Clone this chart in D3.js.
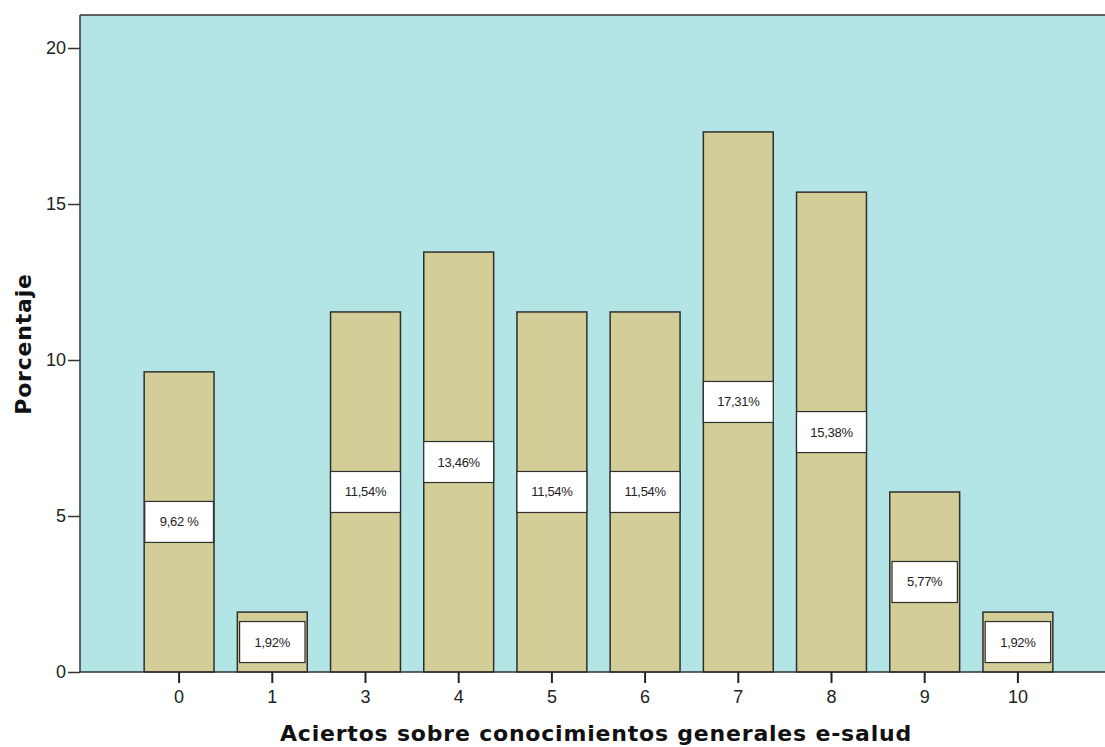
<!DOCTYPE html>
<html>
<head>
<meta charset="utf-8">
<script src="https://cdn.jsdelivr.net/npm/d3@7/dist/d3.min.js"></script>
<style>
  html, body { margin: 0; padding: 0; background: #ffffff; }
  svg { display: block; }
</style>
</head>
<body>
<svg id="chart" width="1105" height="747"></svg>
<script>
// Categories: number of correct answers; values: percentage of respondents
const categories = ["0", "1", "3", "4", "5", "6", "7", "8", "9", "10"];
const percentages = [9.62, 1.92, 11.54, 13.46, 11.54, 11.54, 17.31, 15.38, 5.77, 1.92];
const valueLabels = ["9,62 %", "1,92%", "11,54%", "13,46%", "11,54%", "11,54%", "17,31%", "15,38%", "5,77%", "1,92%"];
const yTicks = [0, 5, 10, 15, 20];

const plot = { left: 80, top: 15, right: 1116, bottom: 672 };

const svg = d3.select("#chart");

const x = d3.scaleBand()
  .domain(categories)
  .range([132.5, 132.5 + 932])
  .paddingInner(0.25)
  .paddingOuter(0.125);

const y = d3.scaleLinear().domain([0, 20]).range([plot.bottom, 48]);

// plot background
svg.append("rect")
  .attr("x", plot.left).attr("y", plot.top)
  .attr("width", plot.right - plot.left).attr("height", plot.bottom - plot.top)
  .attr("fill", "#b3e5e7");

// top frame line
svg.append("line")
  .attr("x1", plot.left).attr("x2", plot.right)
  .attr("y1", plot.top).attr("y2", plot.top)
  .attr("stroke", "#333").attr("stroke-width", 1.5);

const rows = categories.map((c, i) => ({ c, v: percentages[i], label: valueLabels[i] }));

const bars = svg.append("g").selectAll("g.bar")
  .data(rows)
  .join("g").attr("class", "bar");

bars.append("rect")
  .attr("x", d => x(d.c))
  .attr("y", d => y(d.v))
  .attr("width", x.bandwidth())
  .attr("height", d => y(0) - y(d.v))
  .attr("fill", "#d3cd98")
  .attr("stroke", "#2f2f2f")
  .attr("stroke-width", 1.5);

// value label boxes centred at half bar height
bars.each(function(d) {
  const g = d3.select(this);
  const cx = x(d.c) + x.bandwidth() / 2;
  const cy = (y(d.v) + y(0)) / 2;
  const box = g.append("rect")
    .attr("fill", "#ffffff")
    .attr("stroke", "#2f2f2f")
    .attr("stroke-width", 1.2);
  const t = g.append("text")
    .attr("x", cx).attr("y", cy)
    .attr("text-anchor", "middle")
    .attr("dominant-baseline", "central")
    .attr("font-family", "Liberation Sans, Arial, sans-serif")
    .attr("font-size", 13)
    .attr("letter-spacing", -0.3)
    .attr("fill", "#222")
    .text(d.label);
  const tw = t.node().getComputedTextLength();
  const bw = Math.min(x.bandwidth(), tw + 30);
  const bh = 41;
  box.attr("x", cx - bw / 2).attr("y", cy - bh / 2)
    .attr("width", bw).attr("height", bh);
});

// y axis
const yAxis = svg.append("g")
  .attr("transform", `translate(${plot.left},0)`)
  .call(d3.axisLeft(y).tickValues(yTicks).tickSize(12).tickPadding(2).tickFormat(d3.format("d")));
yAxis.select(".domain").attr("d", `M0,${plot.top}V${plot.bottom}`).attr("stroke", "#333").attr("stroke-width", 1.5);
yAxis.selectAll(".tick line").attr("stroke", "#333").attr("stroke-width", 1.5);
yAxis.selectAll(".tick text")
  .attr("font-family", "Liberation Sans, Arial, sans-serif")
  .attr("font-size", 18).attr("fill", "#222");

// x axis: ticks at band centres
const xAxis = svg.append("g")
  .attr("transform", `translate(0,${plot.bottom})`)
  .call(d3.axisBottom(x).tickSize(11).tickPadding(7));
xAxis.select(".domain").attr("d", `M${plot.left},0H${plot.right}`).attr("stroke", "#333").attr("stroke-width", 1.5);
xAxis.selectAll(".tick line").attr("stroke", "#222").attr("stroke-width", 2);
xAxis.selectAll(".tick text")
  .attr("font-family", "Liberation Sans, Arial, sans-serif")
  .attr("font-size", 18).attr("fill", "#222");

// axis titles
svg.append("text")
  .attr("x", 596).attr("y", 741)
  .attr("text-anchor", "middle")
  .attr("font-family", "DejaVu Sans, Verdana, sans-serif")
  .attr("font-weight", "bold")
  .attr("font-size", 22)
  .attr("letter-spacing", 0.8)
  .attr("fill", "#111")
  .text("Aciertos sobre conocimientos generales e-salud");

svg.append("text")
  .attr("transform", "translate(31,344) rotate(-90)")
  .attr("text-anchor", "middle")
  .attr("font-family", "DejaVu Sans, Verdana, sans-serif")
  .attr("font-weight", "bold")
  .attr("font-size", 22)
  .attr("letter-spacing", 0.8)
  .attr("fill", "#111")
  .text("Porcentaje");
</script>
</body>
</html>
